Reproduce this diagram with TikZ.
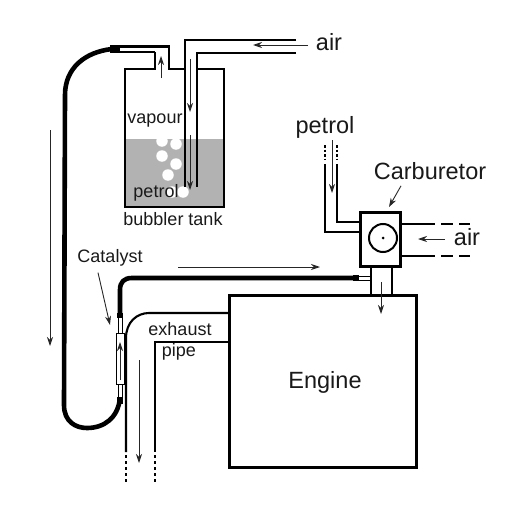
\documentclass[tikz,border=0pt]{standalone}
\usepackage{fontspec}
\setmainfont{Liberation Sans}
\usetikzlibrary{arrows.meta}
\tikzset{
  pipeline/.style={line width=2.1pt,black,line join=miter},
  thinpipe/.style={line width=0.9pt,black},
  hose/.style={line width=4.6pt,black,line join=round},
  flow/.style={line width=0.9pt,black!85,-{Stealth[length=9pt,width=6pt]}},
  dashpipe/.style={line width=2.1pt,black,dash pattern=on 3pt off 3pt},
  longdash/.style={line width=2.1pt,black,dash pattern=on 12pt off 6pt},
  wall/.style={line width=3pt,black},
  lab/.style={inner sep=0pt,font=\fontsize{18}{20}\selectfont,text=black!90},
  biglab/.style={inner sep=0pt,font=\fontsize{23.5}{26}\selectfont,text=black!90},
  bubble/.style={circle,fill=white,minimum size=11.5pt,inner sep=0pt}
}
\begin{document}
\begin{tikzpicture}[x=1pt,y=-1pt]
\useasboundingbox (0,0) rectangle (527,527);
% tank liquid
\fill[black!30] (125,139) rectangle (224,207);
\foreach \i/\x/\y in {a/162/141,b/176/144,c/162/156,d/176/164,e/168/175,f/172/192,g/183/192}
  \node[bubble] (bub\i) at (\x,\y) {};
% tank outline
\draw[pipeline] (155,52) -- (155,69) -- (125,69) -- (125,207) -- (224,207) -- (224,69) -- (197,69);
\draw[pipeline] (120,46.5) -- (169,46.5) -- (169,69) -- (185,69);
\draw[pipeline] (120,52) -- (155,52);
% inlet pipe
\draw[pipeline] (296,40) -- (185,40) -- (185,187);
\draw[pipeline] (296,53) -- (197,53) -- (197,187);
% hoses
\draw[hose] (112,49) .. controls (85,52) and (65,68) .. (65,95) -- (64,405)
  .. controls (64,422) and (76,428) .. (87,428) .. controls (104,428) and (118,418) .. (120,398);
\fill (110,45) rectangle (120,53);
\fill (117,397) rectangle (123,404);
\draw[hose] (120,315) -- (120,290) .. controls (120,282) and (124,278) .. (132,278) -- (355,278);
\fill (117,313) rectangle (123,318);
\fill (353,275) rectangle (359,281);
\draw[thinpipe] (358,276) -- (371,276) (358,280) -- (371,280);
% catalyst
\draw[thinpipe] (118.5,316) -- (118.5,333) (122,316) -- (122,333)
  (118.5,384) -- (118.5,400) (122,384) -- (122,400);
\node[draw,line width=0.9pt,fill=white,minimum width=8pt,minimum height=51pt,inner sep=0pt] (cat) at (120,358.5) {};
% exhaust
\draw[pipeline] (229,313) -- (149,313) .. controls (137,313) and (126,322) .. (126,338) -- (126,452);
\draw[pipeline] (229,342) -- (155,342) -- (155,452);
\draw[dashpipe] (126,455) -- (126,482);
\draw[dashpipe] (155,455) -- (155,482);
% engine
\node[draw,wall,minimum width=187pt,minimum height=172pt,inner sep=0pt] (engine) at (322.5,381) {};
\node[biglab] (enginelab) at (325,382) {Engine};
% carburetor
\draw[pipeline] (371,266) -- (371,295);
\draw[pipeline] (392,266) -- (392,295);
\draw[pipeline] (325,164) -- (325,232) -- (360,232);
\draw[pipeline] (337,164) -- (337,222) -- (360,222);
\draw[dashpipe,dash pattern=on 2.5pt off 2pt] (325,145) -- (325,159);
\draw[dashpipe,dash pattern=on 2.5pt off 2pt] (337,145) -- (337,159);
\draw[pipeline] (400,224) -- (435,224);
\draw[pipeline] (400,256) -- (435,256);
\draw[longdash] (441,224) -- (470,224);
\draw[longdash] (441,256) -- (470,256);
\node[draw,wall,fill=white,minimum width=40pt,minimum height=54pt,inner sep=0pt] (carb) at (380,239) {};
\node[draw,line width=2pt,circle,minimum size=28pt,inner sep=0pt] (venturi) at (383,238) {};
\fill (venturi.center) circle (1.5pt);
% flow arrows
\draw[flow] (161,78) -- (161,56);
\draw[flow] (190,59) -- (190,112);
\draw[flow] (190,135) -- (190,190);
\draw[flow] (308,45) -- (253,45);
\draw[flow] (50,130) -- (50,346);
\draw[flow] (178,267) -- (320,267);
\draw[flow] (120,380) -- (120,342);
\draw[flow] (139,360) -- (139,463);
\draw[flow] (381,282) -- (381,314);
\draw[flow] (332,140) -- (332,193);
\draw[flow] (445,239) -- (418,239);
% labels
\node[biglab] (airtop) at (329,42) {air};
\node[biglab] (airright) at (467,237) {air};
\node[biglab] (petroltop) at (325,127) {petrol};
\node[biglab] (carblab) at (430,171) {Carburetor};
\node[lab] (vapour) at (155,121) {vapour};
\node[lab] (petroltank) at (156,193) {petrol};
\node[lab] (bubbler) at (173,219) {bubbler tank};
\node[lab] (exhaust) at (180,329) {exhaust};
\node[lab] (pipe) at (179,352) {pipe};
\node[lab] (catlab) at (110,258) {Catalyst};
% pointers
\coordinate (catend) at (110,325);
\coordinate (carbend) at (389,207);
\draw[flow] (catlab.south) ++(-12,6) -- (catend);
\draw[flow] (carblab.south) ++(-29,6) -- (carbend);
\end{tikzpicture}
\end{document}
